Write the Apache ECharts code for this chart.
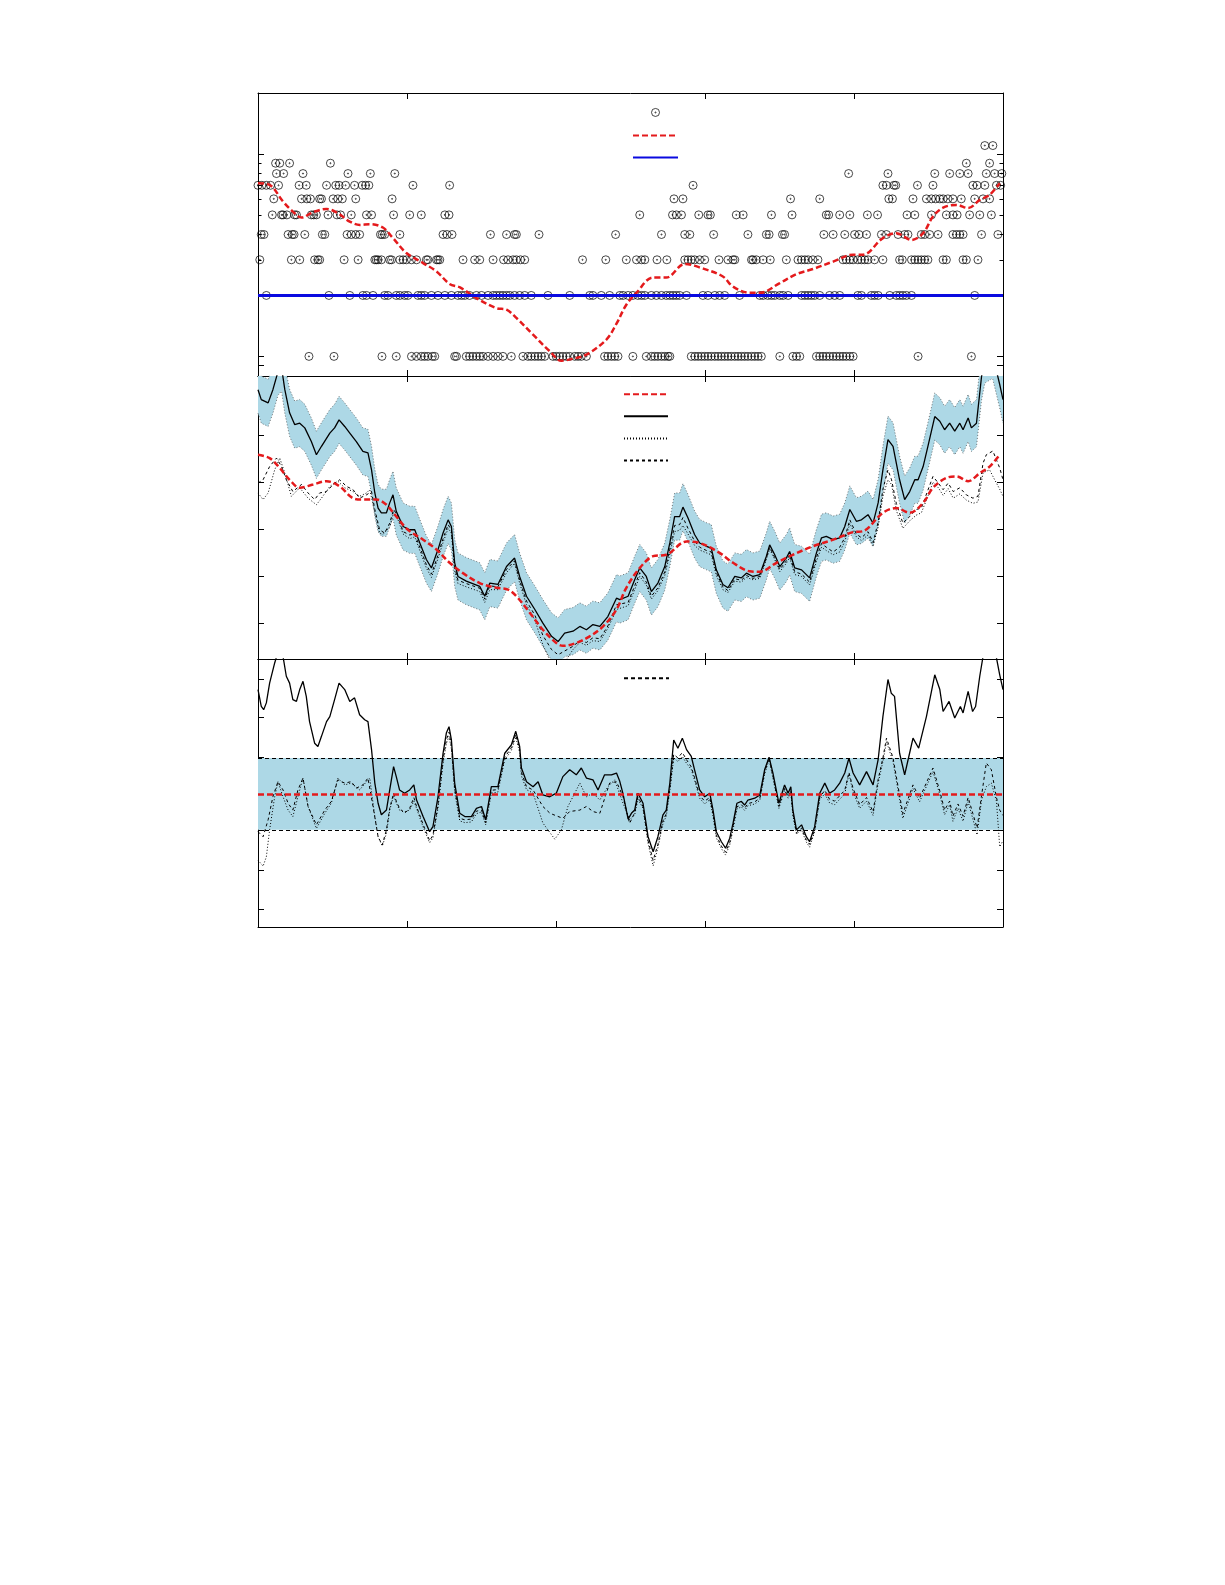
<!DOCTYPE html>
<html><head><meta charset="utf-8">
<script src="https://cdn.jsdelivr.net/npm/echarts@6/dist/echarts.min.js"></script>
<style>html,body{margin:0;padding:0;background:#fff}#chart{width:1225px;height:1585px}</style>
</head><body><div id="chart"></div>
<script>
// ---------- tick positions ----------
const xTicksUpperPanels = [50, 150, 200];
const xTicksLowerPanel = [50, 100, 150, 200];
const p1MajorTicks = [0.9, 1, 10];
const p1MinorTicks = [2, 3, 4, 5, 6, 7, 8, 9];
const p2Ticks = [0, 1, 2, 3, 4, 5];
const p3Ticks = [-3.2, -2.12, -1.02, 1.03, 2.12, 3.2];

// ---------- panel 1: observed counts (x positions per count level) ----------
const circlesAt1 = [17.1,25.5,41.6,46.4,51.5,53.2,54.8,55.9,57.0,58.5,59.3,66.0,66.6,69.9,71.0,72.1,73.3,74.4,75.5,77.2,78.9,80.5,82.2,85.0,88.9,90.6,91.7,92.9,94.0,95.1,96.2,99.0,100.1,101.2,102.3,103.5,104.6,106.3,107.4,108.5,110.2,116.3,117.4,118.6,119.7,120.8,125.8,130.3,132.0,133.1,134.2,135.4,136.5,137.6,138.2,145.4,146.6,147.7,148.8,149.9,151.0,152.1,153.3,154.4,155.5,156.6,157.7,158.8,160.0,161.1,162.2,163.3,164.4,165.6,166.7,167.8,168.9,175.1,179.5,180.7,181.8,187.4,188.5,189.6,190.7,191.8,193.0,194.1,195.2,196.3,197.4,198.6,199.7,221.5,239.4];
const circlesAt2 = [2.8,23.8,30.8,35.2,36.4,38.6,42.5,43.6,46.4,47.6,49.2,50.3,53.7,54.8,55.9,58.2,60.4,62.7,64.9,67.1,68.3,69.4,71.0,73.3,75.0,77.2,78.9,80.0,81.1,82.2,83.4,84.5,86.1,87.8,89.5,91.7,97.3,104.6,111.3,112.4,115.2,118.0,121.4,122.5,124.2,125.8,127.5,128.7,129.8,132.0,133.7,135.4,137.0,138.2,139.3,140.4,141.5,143.8,149.3,151.0,153.3,154.9,156.6,161.6,168.4,169.5,171.1,172.3,173.4,175.1,176.2,177.9,182.4,183.5,184.6,185.7,186.8,188.5,191.8,193.5,195.2,201.3,202.5,205.8,206.9,208.1,212.0,214.2,215.3,216.4,217.6,219.3,240.5];
const circlesAt3 = [0.6,11.2,14.0,19.0,20.1,20.7,28.9,33.6,39.2,39.7,40.3,41.4,44.2,44.8,47.6,48.7,49.8,51.5,53.2,56.5,57.0,59.9,60.4,61.0,68.8,72.7,74.4,78.9,82.4,83.9,85.6,86.7,88.1,89.5,108.9,116.7,123.6,127.0,128.7,129.8,133.9,137.2,143.2,144.3,145.4,146.5,148.2,149.9,154.7,157.7,159.4,160.0,165.6,166.1,167.2,169.5,171.9,177.3,181.2,182.4,183.5,184.6,186.2,187.9,196.3,197.4,198.6,199.7,201.3,202.5,203.6,204.7,206.9,209.7,215.3,216.2,219.3,220.4,221.5,222.6,223.7,224.8,229.9,231.0,236.6,237.7,241.6];
const circlesAt4 = [1.1,2.0,10.1,11.5,12.1,15.7,21.6,22.4,29.9,31.3,32.8,34.1,41.1,41.7,42.5,47.6,62.1,63.4,65.1,78.0,83.4,86.1,86.7,94.3,120.0,135.4,143.2,144.9,152.9,164.4,170.6,171.5,176.0,176.7,189.9,193.0,196.9,200.2,201.7,204.2,209.2,210.9,214.8,217.0,218.1,222.6,223.7,225.4,228.2,233.2,234.4,235.5,236.6,242.8,248.3];
const circlesAt5 = [4.8,7.9,8.4,9.7,12.3,12.9,17.9,18.7,19.6,23.5,26.5,27.7,31.3,36.4,38.1,45.5,50.9,54.8,62.7,64.1,128.1,139.1,140.4,142.1,147.9,151.0,151.8,160.5,162.8,172.3,179.2,190.7,191.5,195.2,198.6,204.5,207.9,217.8,220.4,226.0,231.0,233.2,234.6,238.8,242.2,246.1];
const circlesAt6 = [5.3,14.6,16.4,17.6,20.7,21.3,25.2,26.8,28.3,32.8,45.0,139.6,142.6,178.7,188.5,211.7,212.9,219.8,224.3,226.0,227.4,228.8,229.9,231.5,233.2,236.0,240.5,243.3,245.5];
const circlesAt7 = [0,1.3,2.8,4.2,6.9,13.8,16.2,23.0,26.1,27.2,29.4,32.4,35.0,36.1,37.2,52.0,64.3,146.0,209.7,210.9,213.4,214.0,221.3,226.5,239.9,241.3,243.9,247.8,249.2];
const circlesAt8 = [6.2,8.6,15.1,30.2,37.7,45.9,198.2,211.4,227.1,232.1,235.5,238.3,244.4,247.2,249.6];
const circlesAt9 = [5.9,7.3,10.6,24.3,237.7,245.5];
const circlesAt11 = [243.9,246.6];

const p1Mean = [[0,7.17],[3.9,7.03],[8.4,5.82],[11.7,5.19],[14.6,4.85],[18.5,5.16],[23.0,5.35],[26.8,5.10],[30.8,4.63],[34.2,4.46],[37.5,4.50],[41.9,4.33],[45.3,3.84],[49.8,3.24],[55.4,2.89],[59.9,2.63],[64.3,2.28],[67.8,2.19],[73.3,1.94],[80.0,1.73],[83.4,1.70],[86.7,1.55],[92.3,1.28],[97.9,1.06],[101.8,0.952],[105.7,0.974],[110.2,1.02],[116.9,1.21],[120.3,1.45],[123.6,1.80],[127.0,2.06],[132.5,2.45],[137.0,2.45],[143.2,2.86],[148.2,2.75],[156.0,2.48],[159.4,2.21],[165.0,2.06],[168.4,2.06],[175.1,2.30],[180.7,2.55],[186.2,2.70],[193.0,2.94],[199.7,3.18],[203.0,3.18],[209.7,3.84],[214.2,4.06],[219.3,3.76],[223.2,4.06],[226.5,4.91],[229.9,5.43],[234.4,5.60],[238.3,5.40],[242.2,5.93],[245.5,6.28],[248.9,7.17]];
const threshold = 2;

// ---------- panel 2 ----------
const p2Mean = [[0,3.58],[3.9,3.51],[7.3,3.30],[10.6,3.05],[14.0,2.88],[18.5,2.95],[23.0,3.02],[27.4,2.91],[31.9,2.66],[35.2,2.63],[39.7,2.63],[43.1,2.52],[46.4,2.27],[50.3,1.99],[55.4,1.78],[59.9,1.57],[64.3,1.29],[68.8,1.07],[74.4,0.86],[80.0,0.76],[83.9,0.72],[86.7,0.58],[91.2,0.23],[95.6,-0.13],[100.1,-0.41],[102.3,-0.47],[106.8,-0.41],[111.3,-0.27],[115.8,-0.06],[120.3,0.30],[123.6,0.76],[128.1,1.18],[132.6,1.43],[137.0,1.46],[143.8,1.74],[148.2,1.71],[154.9,1.50],[159.4,1.29],[165.0,1.11],[168.4,1.10],[174.0,1.29],[179.5,1.46],[186.2,1.64],[193.0,1.78],[199.7,1.94],[203.0,1.96],[209.7,2.35],[214.2,2.45],[218.7,2.35],[223.2,2.56],[226.5,2.88],[231.0,3.09],[234.4,3.12],[238.3,3.02],[242.2,3.19],[245.5,3.33],[248.9,3.58]];
const p2Solid = [[0,4.96],[1.1,4.75],[3.4,4.68],[5.0,4.96],[6.7,5.34],[7.9,5.43],[9.0,4.96],[10.6,4.47],[12.3,4.22],[14.0,4.25],[15.7,4.15],[17.9,3.86],[19.6,3.58],[21.3,3.76],[24.1,4.04],[25.7,4.15],[27.2,4.32],[29.1,4.18],[30.8,4.04],[33.0,3.86],[35.2,3.65],[36.9,3.62],[38.1,3.26],[39.2,2.77],[40.3,2.45],[41.4,2.35],[43.1,2.35],[44.2,2.56],[45.3,2.73],[46.4,2.38],[48.7,2.06],[50.9,1.99],[52.6,1.99],[54.3,1.71],[56.5,1.36],[58.2,1.18],[60.4,1.57],[62.1,1.92],[63.8,2.20],[64.9,2.06],[66.0,1.29],[67.1,1.00],[69.9,0.90],[74.4,0.79],[76.1,0.58],[77.8,0.86],[80.5,0.83],[83.4,1.21],[86.1,1.39],[87.8,1.00],[90.1,0.58],[92.9,0.30],[95.6,0.01],[98.5,-0.27],[100.7,-0.38],[102.9,-0.20],[105.7,-0.16],[108.0,-0.06],[110.2,-0.13],[112.4,-0.02],[114.7,-0.06],[117.4,0.15],[120.3,0.54],[121.4,0.51],[124.2,0.58],[126.4,0.93],[128.1,1.18],[130.3,1.00],[132.0,0.68],[134.2,0.86],[136.5,1.21],[138.2,1.71],[139.8,2.27],[141.5,2.27],[142.6,2.47],[144.3,2.24],[146.5,1.89],[148.2,1.71],[150.5,1.64],[152.1,1.60],[153.8,1.14],[156.0,0.83],[157.7,0.76],[160.0,1.00],[162.2,0.97],[163.9,1.07],[166.1,1.00],[168.4,1.04],[170.6,1.43],[171.7,1.67],[173.4,1.46],[175.1,1.21],[177.3,1.39],[178.4,1.53],[180.1,1.18],[182.4,1.14],[185.1,0.97],[187.4,1.50],[189.1,1.82],[190.7,1.85],[193.0,1.78],[195.2,1.82],[196.9,2.06],[198.6,2.42],[200.8,2.17],[202.5,2.20],[204.7,2.31],[206.4,2.13],[208.1,2.56],[209.7,3.26],[211.4,3.90],[213.1,3.76],[215.3,3.05],[217.0,2.63],[218.7,2.80],[220.4,3.05],[221.5,3.05],[223.2,3.33],[224.8,3.76],[227.1,4.39],[228.8,4.29],[230.4,4.11],[232.1,4.25],[233.8,4.08],[235.5,4.25],[236.6,4.11],[238.3,4.36],[239.4,4.15],[241.1,4.25],[242.8,5.24],[243.9,5.60],[246.5,5.70],[248.9,5.07],[250,4.75]];
const p2BandHalfWidth = 0.5;
const p2Dotted = [[0,2.77],[1.7,2.63],[3.4,2.77],[5.6,3.26],[7.3,3.51],[9.0,3.19],[11.2,2.70],[14.0,2.88],[16.8,2.66],[19.6,2.52],[21.3,2.66],[24.1,2.91],[26.8,3.02],[29.1,2.88],[31.9,2.80],[34.1,2.70],[36.4,2.77],[37.5,2.84],[39.2,2.35],[40.8,1.92],[41.9,1.89],[44.2,2.05],[45.5,2.35],[47.0,2.20],[48.7,1.90],[50.9,1.80],[52.6,1.84],[54.3,1.55],[56.5,1.18],[58.2,0.98],[60.4,1.38],[62.1,1.72],[63.8,2.02],[64.9,1.92],[66.0,1.12],[67.1,0.85],[69.9,0.78],[74.4,0.68],[76.1,0.45],[77.8,0.72],[80.5,0.72],[83.4,1.08],[86.1,1.28],[87.8,0.86],[90.1,0.40],[92.9,0.08],[95.6,-0.45],[98.5,-0.85],[100.7,-0.98],[102.9,-0.82],[105.7,-0.55],[108.0,-0.40],[110.2,-0.46],[112.4,-0.36],[114.7,-0.38],[117.4,-0.10],[120.3,0.30],[124.2,0.38],[126.4,0.72],[128.1,1.00],[130.3,0.82],[132.0,0.52],[134.2,0.70],[136.5,1.02],[138.2,1.48],[139.8,1.95],[141.5,1.98],[142.6,2.08],[144.3,1.90],[146.5,1.66],[148.2,1.56],[150.5,1.50],[152.1,1.46],[153.8,1.02],[156.0,0.72],[157.7,0.66],[160.0,0.90],[162.2,0.88],[163.9,0.98],[166.1,0.93],[168.4,0.96],[170.6,1.36],[171.7,1.58],[173.4,1.36],[175.1,1.10],[177.3,1.28],[178.4,1.40],[180.1,1.04],[182.4,1.00],[185.1,0.82],[187.4,1.32],[189.1,1.62],[190.7,1.55],[193.0,1.46],[195.2,1.52],[196.9,1.74],[198.6,2.12],[200.8,1.84],[202.5,1.76],[204.7,1.88],[206.4,1.66],[208.1,2.05],[209.7,2.70],[211.4,3.05],[212.6,2.95],[214.2,2.40],[216.4,2.02],[218.7,2.18],[220.9,2.30],[222.6,2.35],[224.8,2.70],[226.5,3.00],[228.3,2.88],[229.9,2.72],[231.6,2.86],[233.3,2.66],[235.5,2.75],[237.7,2.62],[239.9,2.55],[241.6,2.58],[243.3,3.20],[245.5,3.26],[247.2,3.05],[248.9,2.85],[250,2.70]];
const p2Dashed = [[0,2.98],[1.7,3.05],[3.9,3.33],[6.2,3.51],[7.9,3.33],[9.5,3.05],[11.7,2.80],[14.6,2.95],[16.8,2.77],[19.0,2.63],[20.7,2.77],[23.0,2.80],[25.7,2.98],[27.4,3.05],[29.7,2.91],[31.9,2.84],[34.1,2.66],[36.4,2.73],[38.1,2.80],[39.2,2.42],[40.8,1.99],[42.5,1.92],[44.2,2.13],[45.5,2.42],[47.0,2.27],[48.7,1.95],[50.9,1.88],[52.6,1.90],[54.3,1.62],[56.5,1.25],[58.2,1.05],[60.4,1.45],[62.1,1.80],[63.8,2.10],[64.9,1.98],[66.0,1.20],[67.1,0.92],[69.9,0.85],[74.4,0.75],[76.1,0.52],[77.8,0.80],[80.5,0.78],[83.4,1.15],[86.1,1.33],[87.8,0.92],[90.1,0.48],[92.9,0.18],[95.6,-0.25],[98.5,-0.55],[100.7,-0.66],[102.9,-0.58],[105.7,-0.48],[108.0,-0.36],[110.2,-0.40],[112.4,-0.30],[114.7,-0.32],[117.4,-0.05],[120.3,0.40],[124.2,0.45],[126.4,0.80],[128.1,1.08],[130.3,0.88],[132.0,0.58],[134.2,0.76],[136.5,1.10],[138.2,1.58],[139.8,2.08],[141.5,2.10],[142.6,2.25],[144.3,2.02],[146.5,1.75],[148.2,1.62],[150.5,1.55],[152.1,1.52],[153.8,1.08],[156.0,0.78],[157.7,0.70],[160.0,0.95],[162.2,0.92],[163.9,1.02],[166.1,0.96],[168.4,1.00],[170.6,1.40],[171.7,1.62],[173.4,1.40],[175.1,1.15],[177.3,1.33],[178.4,1.46],[180.1,1.10],[182.4,1.05],[185.1,0.88],[187.4,1.40],[189.1,1.70],[190.7,1.62],[193.0,1.52],[195.2,1.62],[196.9,1.82],[198.6,2.20],[200.8,1.90],[202.5,1.82],[204.7,1.95],[206.4,1.72],[208.1,2.15],[209.7,2.85],[211.4,3.26],[212.6,3.05],[214.2,2.55],[216.4,2.13],[218.7,2.27],[220.9,2.42],[222.6,2.45],[224.8,2.83],[226.5,3.12],[228.3,2.98],[229.9,2.84],[231.6,2.98],[233.3,2.80],[235.5,2.88],[237.7,2.73],[239.9,2.66],[241.6,2.70],[243.3,3.40],[244.4,3.58],[246.6,3.66],[248.9,3.30],[250,3.05]];

// ---------- panel 3 (standardised residuals) ----------
const p3Band = 1;
const p3Zero = 0;
const p3Solid = [[0,2.90],[1.1,2.43],[1.9,2.34],[2.8,2.53],[3.9,3.08],[5.6,3.64],[6.7,3.95],[8.4,3.82],[9.5,3.27],[10.6,3.08],[11.7,2.62],[12.9,2.57],[14.0,2.90],[15.1,3.13],[16.2,2.71],[17.3,2.01],[19.0,1.41],[20.1,1.32],[21.3,1.60],[23.0,2.01],[24.1,2.15],[25.7,2.62],[27.2,3.08],[29.1,2.90],[30.8,2.57],[32.4,2.67],[34.1,2.20],[35.8,2.06],[36.9,2.01],[38.1,1.23],[39.2,0.30],[40.3,-0.26],[41.4,-0.58],[43.1,-0.45],[44.2,0.11],[45.5,0.76],[46.4,0.48],[47.5,0.11],[49.2,0.02],[50.9,0.11],[52.3,0.25],[53.2,-0.17],[55.4,-0.63],[57.6,-1.05],[58.7,-0.91],[60.4,-0.08],[62.1,1.13],[63.2,1.69],[64.1,1.87],[64.9,1.50],[66.0,0.30],[67.7,-0.54],[69.4,-0.63],[71.6,-0.63],[73.3,-0.40],[75.0,-0.35],[76.4,-0.72],[78.3,0.20],[80.5,0.20],[82.8,1.13],[85.0,1.36],[86.5,1.74],[87.8,1.32],[88.4,0.72],[90.1,0.34],[92.3,0.20],[94.0,0.34],[95.6,-0.03],[97.9,-0.08],[100.1,0.02],[102.3,0.48],[104.6,0.67],[106.8,0.53],[108.5,0.72],[110.2,0.44],[112.4,0.39],[114.1,0.11],[116.3,0.53],[118.6,0.53],[120.3,0.58],[121.4,0.35],[122.5,0.00],[124.2,-0.70],[125.3,-0.54],[126.4,-0.45],[127.5,0.02],[129.2,-0.26],[130.9,-1.19],[132.6,-1.61],[134.2,-1.19],[135.9,-0.58],[137.0,-0.45],[138.2,0.30],[139.5,1.50],[140.9,1.27],[142.4,1.55],[143.8,1.23],[145.4,1.04],[146.5,0.67],[148.2,0.11],[149.9,-0.08],[151.6,0.02],[152.7,-0.45],[153.8,-1.05],[155.5,-1.33],[156.9,-1.51],[158.3,-1.23],[159.4,-0.82],[160.7,-0.26],[162.2,-0.21],[163.3,-0.31],[164.4,-0.17],[166.7,-0.12],[168.4,-0.03],[170.0,0.67],[171.5,1.02],[172.8,0.58],[174.8,-0.26],[176.7,0.25],[177.9,0.02],[178.8,0.20],[179.5,-0.45],[180.7,-1.00],[182.4,-0.86],[184.0,-1.19],[185.1,-1.33],[186.8,-0.91],[188.5,0.02],[190.2,0.30],[191.8,0.02],[193.5,0.11],[195.2,0.30],[196.9,0.58],[198.3,0.99],[199.7,0.58],[201.9,0.25],[204.2,0.62],[206.4,0.25],[208.1,0.95],[209.7,2.15],[211.4,3.18],[212.5,2.80],[213.6,2.71],[215.3,1.13],[217.0,0.53],[218.4,1.04],[219.8,1.55],[221.7,1.27],[224.3,2.15],[227.1,3.31],[228.8,2.90],[229.9,2.29],[231.9,2.57],[233.8,2.11],[235.7,2.43],[236.6,2.25],[238.3,2.85],[239.8,2.29],[240.8,2.43],[242.2,3.27],[243.3,3.82],[244.5,4.40],[246.6,4.30],[248.9,3.31],[250,2.90]];
const p3Dotted = [[0,-1.84],[1.7,-2.01],[2.8,-1.75],[3.9,-1.00],[5.6,-0.08],[6.7,0.34],[8.4,-0.08],[10.1,-0.45],[11.7,-0.63],[14.0,0.11],[15.1,0.44],[16.8,-0.35],[19.6,-0.96],[22.4,-0.54],[24.6,-0.26],[26.8,0.44],[29.1,0.25],[31.3,0.30],[34.1,0.11],[36.4,0.34],[37.5,0.44],[39.2,-0.63],[40.3,-1.19],[41.7,-1.45],[43.1,-1.10],[44.2,-0.45],[45.5,-0.05],[46.4,-0.25],[47.5,-0.45],[49.2,-0.50],[50.9,-0.45],[52.3,-0.20],[53.2,-0.40],[55.4,-0.92],[57.6,-1.36],[58.7,-1.22],[60.4,-0.40],[62.1,0.85],[63.2,1.40],[64.1,1.60],[64.9,1.25],[66.0,0.05],[67.7,-0.75],[69.4,-0.80],[71.6,-0.78],[73.3,-0.55],[75.0,-0.50],[76.4,-0.86],[78.3,0.02],[80.5,0.05],[82.8,0.95],[85.0,1.20],[86.5,1.58],[87.8,1.15],[88.4,0.50],[90.1,0.12],[92.3,0.02],[95.6,-0.81],[99.6,-1.26],[101.8,-1.00],[104.0,-0.35],[106.3,0.02],[108.0,0.30],[110.2,-0.08],[112.4,0.02],[114.7,-0.17],[117.4,0.20],[119.7,0.39],[122.5,-0.26],[124.7,-0.72],[126.4,-0.58],[127.5,-0.15],[129.2,-0.40],[130.9,-1.38],[132.6,-2.00],[134.2,-1.50],[135.9,-0.82],[137.0,-0.62],[138.2,0.08],[139.5,1.00],[140.9,0.90],[142.4,1.04],[143.8,0.85],[145.4,0.68],[146.5,0.38],[148.2,-0.12],[149.9,-0.28],[151.6,-0.16],[152.7,-0.62],[153.8,-1.22],[155.5,-1.52],[156.9,-1.70],[158.3,-1.42],[159.4,-1.00],[160.7,-0.42],[162.2,-0.36],[163.3,-0.46],[164.4,-0.33],[166.7,-0.28],[168.4,-0.18],[170.0,0.55],[171.5,0.95],[172.8,0.44],[174.8,-0.40],[176.7,0.10],[177.9,-0.12],[178.8,0.04],[179.5,-0.60],[180.7,-1.12],[182.4,-1.00],[184.0,-1.34],[185.1,-1.48],[186.8,-1.05],[188.5,-0.15],[190.2,0.00],[191.8,-0.25],[193.5,-0.30],[195.2,-0.15],[196.9,0.00],[198.3,0.55],[199.7,0.05],[201.9,-0.40],[204.2,-0.20],[206.4,-0.60],[208.1,0.30],[209.7,0.90],[210.9,1.45],[213.1,0.90],[216.4,-0.68],[219.8,0.15],[222.0,-0.22],[226.5,0.62],[228.8,-0.02],[230.4,-0.58],[232.1,-0.30],[233.2,-0.76],[234.9,-0.40],[236.6,-0.76],[238.3,-0.22],[239.9,-0.70],[241.3,-1.14],[242.8,-0.17],[244.4,0.20],[246.1,0.30],[247.8,-0.20],[248.9,-1.47],[250,-1.30]];
const p3Dashed = [[0,-1.05],[1.7,-1.19],[3.4,-0.72],[5.0,-0.08],[6.7,0.34],[8.4,0.11],[10.1,-0.26],[11.7,-0.45],[13.4,0.11],[15.1,0.44],[16.8,-0.35],[19.6,-0.86],[22.4,-0.45],[24.6,-0.21],[26.8,0.39],[29.1,0.30],[31.3,0.34],[33.0,0.16],[35.2,0.25],[36.9,0.44],[38.6,-0.35],[40.3,-1.19],[41.7,-1.42],[43.1,-1.00],[44.2,-0.40],[45.5,0.02],[46.4,-0.20],[47.5,-0.40],[49.2,-0.54],[50.9,-0.40],[52.3,-0.10],[53.2,-0.35],[55.4,-0.85],[57.6,-1.30],[58.7,-1.15],[60.4,-0.30],[62.1,0.95],[63.2,1.50],[64.1,1.72],[64.9,1.35],[66.0,0.15],[67.7,-0.68],[69.4,-0.72],[71.6,-0.70],[73.3,-0.48],[75.0,-0.45],[76.4,-0.80],[78.3,0.10],[80.5,0.12],[82.8,1.02],[85.0,1.28],[86.5,1.65],[87.8,1.25],[88.4,0.60],[90.1,0.20],[92.3,0.11],[95.6,-0.35],[98.0,-0.54],[102.3,-0.68],[104.6,-0.49],[108.0,-0.45],[110.2,-0.35],[112.4,-0.49],[114.7,-0.54],[118.0,0.30],[120.3,0.34],[122.5,-0.08],[124.7,-0.82],[126.4,-0.52],[127.5,-0.08],[129.2,-0.35],[130.9,-1.30],[132.6,-1.85],[134.2,-1.40],[135.9,-0.75],[137.0,-0.55],[138.2,0.15],[139.5,1.10],[140.9,1.00],[142.4,1.15],[143.8,0.95],[145.4,0.75],[146.5,0.45],[148.2,-0.05],[149.9,-0.20],[151.6,-0.10],[152.7,-0.55],[153.8,-1.15],[155.5,-1.45],[156.9,-1.62],[158.3,-1.35],[159.4,-0.92],[160.7,-0.36],[162.2,-0.30],[163.3,-0.40],[164.4,-0.27],[166.7,-0.22],[168.4,-0.12],[170.0,0.60],[171.5,1.00],[172.8,0.50],[174.8,-0.35],[176.7,0.15],[177.9,-0.08],[178.8,0.10],[179.5,-0.55],[180.7,-1.08],[182.4,-0.95],[184.0,-1.28],[185.1,-1.40],[186.8,-1.00],[188.5,-0.10],[190.2,0.10],[191.8,-0.15],[193.5,-0.20],[195.2,-0.05],[196.9,0.10],[198.3,0.60],[199.7,0.15],[201.9,-0.30],[204.2,-0.10],[206.4,-0.50],[208.1,0.40],[209.7,1.00],[210.9,1.55],[213.1,1.00],[216.4,-0.55],[219.8,0.25],[222.0,-0.12],[226.5,0.72],[228.8,0.08],[230.4,-0.45],[232.1,-0.20],[233.2,-0.62],[234.9,-0.28],[236.6,-0.62],[238.3,-0.10],[239.9,-0.55],[241.3,-0.95],[242.8,-0.05],[244.4,0.86],[246.1,0.67],[247.8,-0.10],[248.9,-0.45],[250,-0.60]];

// ---------- build ----------
const RED = '#e41a1c', BLUE = '#0a0ae0', BAND = '#add8e6';
const circleSymbol = 'path://M0,-4A4,4,0,1,1,0,4A4,4,0,1,1,0,-4ZM0,-0.55A0.55,0.55,0,1,1,0,0.55A0.55,0.55,0,1,1,0,-0.55Z';

const levelLists = [[1,circlesAt1],[2,circlesAt2],[3,circlesAt3],[4,circlesAt4],[5,circlesAt5],[6,circlesAt6],[7,circlesAt7],[8,circlesAt8],[9,circlesAt9],[11,circlesAt11]];
const obsData = [];
levelLists.forEach(([lvl, xs]) => xs.forEach(x => obsData.push([x, lvl])));

const bandLow = p2Solid.map(([x, y]) => [x, y - p2BandHalfWidth]);
const bandHigh = p2Solid.map(([x, y]) => [x, y + p2BandHalfWidth]);

const grids = [
  {left: 258, right: 222, top: 93, height: 283},
  {left: 258, right: 222, top: 376, height: 283},
  {left: 258, right: 222, top: 659, height: 268}
];

function xAx(g, pos, ticks) {
  return {type: 'value', gridIndex: g, position: pos, min: 0, max: 250,
    axisLine: {show: true, onZero: false, lineStyle: {color: '#000', width: 1}},
    axisTick: {show: true, inside: true, length: 6, customValues: ticks, lineStyle: {color: '#000', width: 1}},
    axisLabel: {show: false}, splitLine: {show: false}};
}
function yAx(g, pos, type, min, max, ticks, len, showLine) {
  const a = {type: type, gridIndex: g, position: pos, min: min, max: max,
    axisLine: {show: showLine, onZero: false, lineStyle: {color: '#000', width: 1}},
    axisTick: {show: true, inside: true, length: len, customValues: ticks, lineStyle: {color: '#000', width: 1}},
    axisLabel: {show: false}, splitLine: {show: false}, minorTick: {show: false}};
  if (type === 'log') a.logBase = 10;
  return a;
}

const lineBase = {type: 'line', symbol: 'none', showSymbol: false, animation: false, clip: true};
const noIcon = {opacity: 0};
const legendCommon = {orient: 'vertical', itemWidth: 45, itemHeight: 8, padding: 0,
  formatter: () => '', textStyle: {fontSize: 6, lineHeight: 6}, selectedMode: false};

const option = {
  animation: false,
  backgroundColor: '#fff',
  grid: grids,
  xAxis: [
    xAx(0, 'bottom', xTicksUpperPanels), xAx(0, 'top', xTicksUpperPanels),
    xAx(1, 'bottom', xTicksUpperPanels), xAx(1, 'top', xTicksUpperPanels),
    xAx(2, 'bottom', xTicksLowerPanel), xAx(2, 'top', xTicksLowerPanel)
  ],
  yAxis: [
    yAx(0, 'left', 'log', 0.8, 20, p1MajorTicks, 6, true),
    yAx(0, 'left', 'log', 0.8, 20, p1MinorTicks, 3.5, false),
    yAx(0, 'right', 'log', 0.8, 20, p1MajorTicks, 6, true),
    yAx(0, 'right', 'log', 0.8, 20, p1MinorTicks, 3.5, false),
    yAx(1, 'left', 'value', -0.75, 5.25, p2Ticks, 6, true),
    yAx(1, 'right', 'value', -0.75, 5.25, p2Ticks, 6, true),
    yAx(2, 'left', 'value', -3.7, 3.75, p3Ticks, 6, true),
    yAx(2, 'right', 'value', -3.7, 3.75, p3Ticks, 6, true)
  ],
  legend: [
    Object.assign({}, legendCommon, {left: 632, top: 108, itemGap: 15.5,
      data: [{name: 'obs', itemStyle: {color: 'rgba(0,0,0,0)', borderColor: '#000', borderWidth: 0.9}},
             {name: 'p1mean', itemStyle: noIcon}, {name: 'p1threshold', itemStyle: noIcon}]}),
    Object.assign({}, legendCommon, {left: 623, top: 391, itemWidth: 44, itemGap: 15.7, itemStyle: noIcon,
      data: ['p2mean', 'p2solid', 'p2dotted', 'p2dashed']}),
    Object.assign({}, legendCommon, {left: 623, top: 675, itemStyle: noIcon, data: ['sigma']})
  ],
  series: [
    // panel 1
    {name: 'obs', type: 'scatter', xAxisIndex: 0, yAxisIndex: 0, data: obsData, symbol: circleSymbol, symbolSize: 8, symbolKeepAspect: true,
      itemStyle: {color: 'rgba(0,0,0,0)', borderColor: '#000', borderWidth: 0.9}, z: 2, animation: false},
    Object.assign({}, lineBase, {name: 'p1mean', xAxisIndex: 0, yAxisIndex: 0, data: p1Mean, smooth: 0.35,
      lineStyle: {color: RED, width: 2.5, type: [6, 3]}, itemStyle: {color: RED}, z: 3}),
    Object.assign({}, lineBase, {name: 'p1threshold', xAxisIndex: 0, yAxisIndex: 0, data: [],
      lineStyle: {color: BLUE, width: 3}, itemStyle: {color: BLUE}, z: 4,
      markLine: {silent: true, symbol: 'none', label: {show: false}, lineStyle: {color: BLUE, width: 3, type: 'solid'}, data: [{yAxis: threshold}]}}),
    // panel 2: uncertainty band drawn as a polygon through the axis scales
    {type: 'custom', name: 'p2band', xAxisIndex: 2, yAxisIndex: 4, data: p2Solid, clip: true, silent: true, z: 1, animation: false,
      renderItem: function (params, api) {
        if (params.dataIndex !== 0) return null;
        const up = bandHigh.map(p => api.coord(p));
        const lo = bandLow.slice().reverse().map(p => api.coord(p));
        return {type: 'polygon', shape: {points: up.concat(lo)}, style: {fill: BAND, stroke: null}};
      }},
    Object.assign({}, lineBase, {name: 'bandLow', xAxisIndex: 2, yAxisIndex: 4, data: bandLow,
      lineStyle: {color: '#444', width: 0.7, type: [1, 2]}, z: 2}),
    Object.assign({}, lineBase, {name: 'bandHigh', xAxisIndex: 2, yAxisIndex: 4, data: bandHigh,
      lineStyle: {color: '#444', width: 0.7, type: [1, 2]}, z: 2}),
    Object.assign({}, lineBase, {name: 'p2dotted', xAxisIndex: 2, yAxisIndex: 4, data: p2Dotted,
      lineStyle: {color: '#000', width: 1, type: [1, 2]}, itemStyle: {color: '#000'}, z: 3}),
    Object.assign({}, lineBase, {name: 'p2dashed', xAxisIndex: 2, yAxisIndex: 4, data: p2Dashed,
      lineStyle: {color: '#000', width: 1, type: [3, 3]}, itemStyle: {color: '#000'}, z: 3}),
    Object.assign({}, lineBase, {name: 'p2solid', xAxisIndex: 2, yAxisIndex: 4, data: p2Solid,
      lineStyle: {color: '#000', width: 1.3}, itemStyle: {color: '#000'}, z: 4}),
    Object.assign({}, lineBase, {name: 'p2mean', xAxisIndex: 2, yAxisIndex: 4, data: p2Mean, smooth: 0.35,
      lineStyle: {color: RED, width: 2.5, type: [6, 3]}, itemStyle: {color: RED}, z: 5}),
    // panel 3
    Object.assign({}, lineBase, {name: 'sigma', xAxisIndex: 4, yAxisIndex: 6, data: [],
      lineStyle: {color: '#000', width: 1, type: [4, 3]}, itemStyle: {color: '#000'}, z: 1,
      markArea: {silent: true, itemStyle: {color: BAND, opacity: 1}, label: {show: false}, data: [[{yAxis: -p3Band}, {yAxis: p3Band}]]},
      markLine: {silent: true, symbol: 'none', label: {show: false}, lineStyle: {color: '#000', width: 1, type: [4, 3]}, data: [{yAxis: -p3Band}, {yAxis: p3Band}]}}),
    Object.assign({}, lineBase, {name: 'p3dotted', xAxisIndex: 4, yAxisIndex: 6, data: p3Dotted,
      lineStyle: {color: '#000', width: 1, type: [1, 2]}, z: 3}),
    Object.assign({}, lineBase, {name: 'p3dashed', xAxisIndex: 4, yAxisIndex: 6, data: p3Dashed,
      lineStyle: {color: '#000', width: 1, type: [3, 3]}, z: 3}),
    Object.assign({}, lineBase, {name: 'p3solid', xAxisIndex: 4, yAxisIndex: 6, data: p3Solid,
      lineStyle: {color: '#000', width: 1.3}, z: 4}),
    Object.assign({}, lineBase, {name: 'p3zero', xAxisIndex: 4, yAxisIndex: 6, data: [],
      lineStyle: {color: RED, width: 2.5, type: [6, 3]}, z: 5,
      markLine: {silent: true, symbol: 'none', label: {show: false}, lineStyle: {color: RED, width: 2.5, type: [6, 3]}, data: [{yAxis: p3Zero}]}})
  ]
};

const chart = echarts.init(document.getElementById('chart'), null, {renderer: 'canvas'});
chart.setOption(option);
</script>
</body></html>
